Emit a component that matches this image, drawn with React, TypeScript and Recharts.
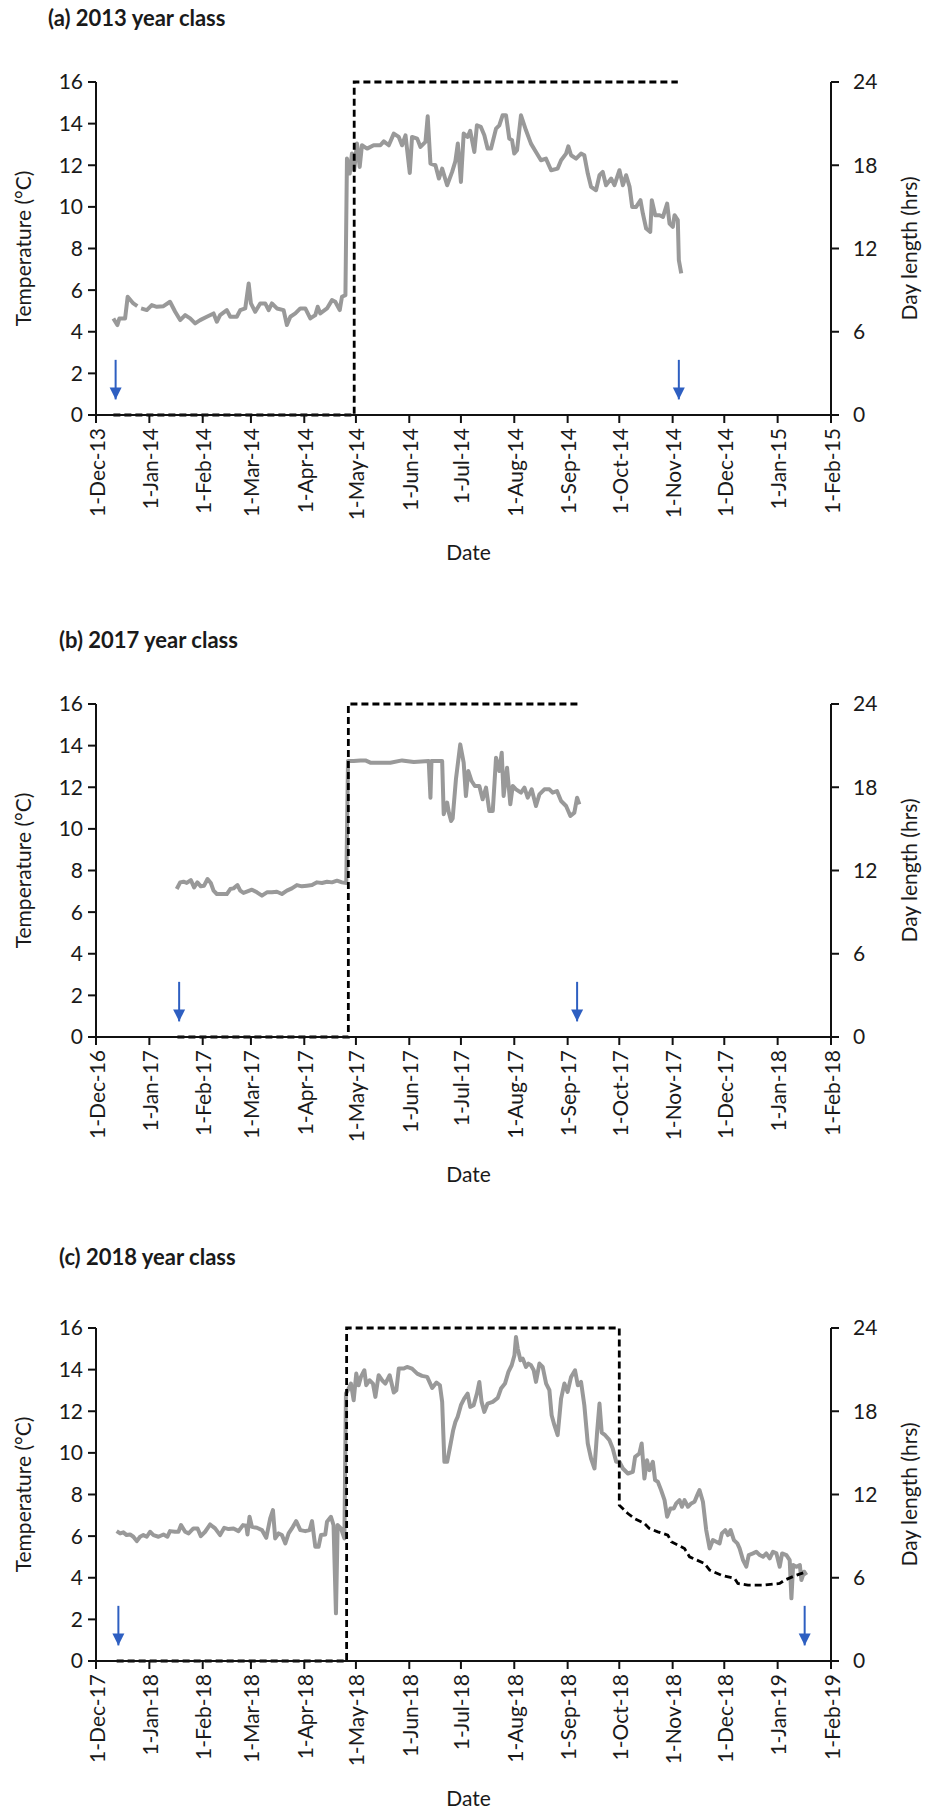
import React from 'react';
import { LineChart, Line, XAxis, YAxis } from 'recharts';

// Day offsets of month starts from 1-Dec (same calendar layout for all three panels)
const monthTicks = [0, 31, 62, 90, 121, 151, 182, 212, 243, 274, 304, 335, 365, 396, 427];

const labelsA = ['1-Dec-13', '1-Jan-14', '1-Feb-14', '1-Mar-14', '1-Apr-14', '1-May-14', '1-Jun-14', '1-Jul-14', '1-Aug-14', '1-Sep-14', '1-Oct-14', '1-Nov-14', '1-Dec-14', '1-Jan-15', '1-Feb-15'];
const labelsB = ['1-Dec-16', '1-Jan-17', '1-Feb-17', '1-Mar-17', '1-Apr-17', '1-May-17', '1-Jun-17', '1-Jul-17', '1-Aug-17', '1-Sep-17', '1-Oct-17', '1-Nov-17', '1-Dec-17', '1-Jan-18', '1-Feb-18'];
const labelsC = ['1-Dec-17', '1-Jan-18', '1-Feb-18', '1-Mar-18', '1-Apr-18', '1-May-18', '1-Jun-18', '1-Jul-18', '1-Aug-18', '1-Sep-18', '1-Oct-18', '1-Nov-18', '1-Dec-18', '1-Jan-19', '1-Feb-19'];

const tempTicks = [0, 2, 4, 6, 8, 10, 12, 14, 16];
const hourTicks = [0, 6, 12, 18, 24];

// Temperature (°C): [day since 1-Dec, value]
const tempA: [number, number | null][] = [
  [10.1, 4.64], [12.4, 4.32], [13.6, 4.64], [16.9, 4.64], [18.4, 5.68], [21.7, 5.36], [24, 5.23], [25, null],
  [26.2, 5.12], [29.5, 5.04], [32.4, 5.28], [35.3, 5.2], [39.2, 5.23], [43, 5.44], [46, 4.96], [48.9, 4.56],
  [51.8, 4.8], [54.7, 4.64], [57.6, 4.4], [60.5, 4.56], [64.4, 4.72], [68.3, 4.88], [70.2, 4.48], [72.1, 4.8],
  [76, 5.04], [78, 4.72], [81.8, 4.72], [83.8, 5.04], [86.7, 5.12], [88.7, 6.32], [90, 5.36], [92.5, 4.96],
  [95.4, 5.36], [98.3, 5.36], [100.3, 5.04], [102.2, 5.36], [105.1, 5.12], [109, 5.04], [110.9, 4.32], [112.9, 4.72],
  [115.8, 4.88], [118.7, 5.12], [121.6, 5.12], [124.5, 4.64], [127.4, 4.8], [128.8, 5.2], [130.3, 4.88], [134.2, 5.12],
  [137.1, 5.52], [139, 5.44], [141.6, 5.04], [142.9, 5.68], [144.9, 5.76], [145.8, 12.32], [147.4, 11.6], [148.7, 12.56],
  [150, 11.76], [151.6, 13.04], [153.2, 11.92], [154.5, 12.96], [157.5, 12.8], [161.3, 12.96], [165.2, 12.96], [167.2, 13.15],
  [170.1, 12.96], [173, 13.52], [175.9, 13.36], [177.8, 12.96], [179.8, 13.44], [182.3, 11.63], [183.6, 13.36], [186.6, 13.28],
  [188.5, 12.88], [191.4, 13.12], [192.7, 14.35], [194.3, 12.08], [197.2, 12], [199.2, 11.36], [201.1, 11.84], [204, 11.04],
  [206.9, 11.68], [208.8, 12.2], [210.2, 13.04], [212, 11.2], [213.6, 13.52], [215.9, 13.36], [217.4, 13.65], [219.8, 12.64],
  [221.3, 13.92], [223.6, 13.84], [225.6, 13.44], [227.5, 12.8], [229.5, 12.8], [232.4, 13.76], [234.3, 13.92], [236.2, 14.4],
  [238.2, 14.4], [240.1, 13.28], [241.7, 13.2], [243, 12.56], [244.6, 12.72], [246.9, 14.4], [249.8, 13.68], [252.7, 13.04],
  [255.6, 12.64], [258.5, 12.24], [261.4, 12.32], [264.4, 11.76], [268.2, 11.84], [270.2, 12.24], [273.1, 12.56], [274.4, 12.91],
  [276, 12.48], [278.9, 12.32], [281.8, 12.56], [283.7, 12.48], [285.7, 11.6], [287.6, 10.96], [290.5, 10.8], [292.5, 11.52],
  [294.4, 11.68], [296.3, 11.04], [299.3, 11.36], [301.2, 11.04], [304.1, 11.76], [306.1, 11.04], [308, 11.52], [310, 10.96],
  [311.5, 10], [313.8, 10], [316.3, 10.32], [317.7, 9.68], [319.6, 8.96], [322, 8.8], [322.9, 10.32], [324.9, 9.6],
  [327.4, 9.6], [329.4, 9.52], [331.8, 10.16], [333.2, 9.2], [335.1, 9.04], [336.1, 9.6], [338, 9.36], [338.6, 7.44], [340, 6.8],
];

const tempB: [number, number][] = [
  [46.9, 7.11], [48.9, 7.43], [50.8, 7.46], [52.7, 7.4], [55.1, 7.54], [57, 7.19], [58.9, 7.43], [60.9, 7.24],
  [62.8, 7.27], [64.8, 7.59], [66.7, 7.4], [68.3, 7.03], [70.2, 6.87], [73.1, 6.87], [76, 6.87], [78, 7.11],
  [79.9, 7.14], [82.2, 7.3], [83.8, 7.03], [85.7, 6.92], [87.6, 6.98], [90.6, 7.08], [93.5, 6.95], [96.4, 6.79],
  [99.3, 6.95], [102.2, 6.95], [105.1, 6.98], [108, 6.87], [110.9, 7.03], [113.8, 7.14], [116.7, 7.3], [119.6, 7.24],
  [122.6, 7.27], [125.5, 7.3], [128.4, 7.43], [131.3, 7.4], [134.2, 7.46], [137.1, 7.43], [140, 7.51], [142.9, 7.43],
  [145.4, 7.4], [146.4, 13.26], [149.7, 13.26], [153.6, 13.29], [156.5, 13.29], [159.4, 13.18], [165.2, 13.18], [171, 13.18],
  [177.8, 13.29], [184.6, 13.21], [193.3, 13.26], [194.3, 11.5], [194.9, 13.26], [201.1, 13.26], [202, 10.7], [204, 11.26],
  [205, 10.78], [206.3, 10.38], [207.2, 10.5], [209.1, 12.38], [211.6, 14.06], [213.6, 13.18], [214.9, 11.58], [216.3, 12.78],
  [218.2, 12.3], [220.1, 12.06], [222.7, 12.06], [224.6, 11.42], [226.6, 11.98], [228.5, 10.86], [230.5, 10.86], [232.4, 13.42],
  [234.3, 12.78], [235.7, 13.66], [236.8, 11.58], [238.8, 12.94], [240.7, 11.18], [242.1, 12.06], [244, 11.9], [246.9, 11.74],
  [248.9, 11.98], [250.8, 11.5], [253.1, 11.9], [255.6, 11.1], [257.6, 11.66], [260.5, 11.9], [263.4, 11.9], [265.3, 11.74],
  [267.8, 11.82], [270.2, 11.34], [273.1, 11.1], [275.6, 10.62], [277.9, 10.78], [279.5, 11.5], [280.8, 11.18],
];

const tempC: [number, number][] = [
  [12, 6.24], [14, 6.13], [15.9, 6.18], [17.8, 6.05], [19.8, 6.08], [21.7, 5.97], [23.7, 5.76], [25.6, 5.97],
  [27.5, 6.05], [29.5, 5.97], [31.4, 6.21], [33.4, 6.05], [36.3, 5.97], [39.2, 6.08], [41.5, 5.97], [43, 6.24],
  [45.9, 6.21], [47.9, 6.21], [49.4, 6.53], [51.8, 6.21], [53.8, 6.13], [56.6, 6.37], [59, 6.37], [60.9, 6.0],
  [63.4, 6.21], [66.3, 6.56], [69.2, 6.37], [72.1, 6.05], [74.5, 6.4], [77, 6.34], [79.9, 6.37], [82.8, 6.24],
  [85.4, 6.53], [87.3, 6.5], [88, 6.08], [89.2, 6.93], [90.6, 6.45], [93.5, 6.4], [96.4, 6.29], [98.9, 5.92],
  [101.2, 6.85], [102.8, 7.25], [104.1, 5.89], [106.1, 6.13], [108, 6.05], [110, 5.65], [111.9, 6.13], [113.8, 6.37],
  [116.3, 6.72], [118.7, 6.29], [121.6, 6.24], [124.1, 6.29], [125.5, 6.72], [127.4, 5.49], [129.3, 5.49], [130.7, 6.05],
  [133.2, 6.08], [134.2, 6.69], [136.5, 6.93], [138, 6.53], [139.4, 2.29], [140.4, 6.53], [142.3, 6.37], [144.3, 5.89],
  [145.2, 12.85], [146.8, 13.09], [148.1, 13.33], [149.7, 12.53], [151.2, 13.81], [152.6, 13.25], [153.9, 13.65], [155.9, 13.97],
  [157, 13.25], [158.9, 13.49], [160.9, 13.33], [162.3, 12.69], [164.2, 13.73], [166.2, 13.49], [168.1, 13.33], [170.6, 13.73],
  [173, 12.9], [174.5, 13.01], [175.9, 14.05], [178.8, 14.05], [180.7, 14.13], [183.6, 14.05], [186.6, 13.81], [189.4, 13.7],
  [192.4, 13.65], [195.3, 13.12], [197.8, 13.38], [199.8, 13.25], [201.1, 12.45], [202.4, 9.57], [204, 9.57], [205.5, 10.21],
  [207.5, 11.09], [208.8, 11.49], [210.1, 11.73], [212, 12.29], [213.9, 12.61], [215.9, 12.85], [217.4, 12.21], [219.4, 12.29],
  [221.3, 12.85], [222.7, 13.41], [224, 12.45], [225.6, 11.97], [227.5, 12.37], [230.5, 12.45], [233.4, 12.64], [235.3, 13.09],
  [237.6, 13.33], [239.6, 13.89], [241.5, 14.21], [243.1, 14.69], [244, 15.57], [245, 15.01], [246.6, 14.45], [247.9, 14.53],
  [249.8, 14.13], [251.2, 14.29], [252.7, 14.21], [254.3, 13.97], [255.6, 13.41], [257.6, 14.29], [259.5, 14.13], [261.5, 13.33],
  [263.4, 13.01], [264.7, 11.81], [266.3, 11.33], [268.2, 10.85], [270.2, 12.61], [272.1, 13.33], [274, 12.93], [276, 13.65],
  [278.3, 13.97], [279.9, 13.25], [281.8, 13.41], [283.7, 12.29], [285.7, 10.45], [287.6, 9.73], [289.6, 9.25], [291.1, 10.97],
  [292.5, 12.37], [293.8, 10.97], [295.8, 10.85], [298.3, 10.61], [300.2, 10.21], [302.2, 9.57], [304.1, 9.57], [306.1, 9.25],
  [309, 9.01], [311.9, 9.09], [313.2, 9.81], [315.7, 9.97], [317, 10.45], [318.6, 8.77], [320.1, 9.65], [321.5, 9.17],
  [323.5, 9.57], [324.8, 8.69], [326.4, 8.61], [328.3, 8.21], [330.3, 7.73], [331.8, 6.93], [333.7, 7.33], [335.7, 7.33],
  [337.1, 7.57], [339, 7.73], [340.4, 7.41], [341.9, 7.73], [343.9, 7.41], [345.8, 7.57], [347.7, 7.65], [349.3, 7.97],
  [350.6, 8.21], [352.6, 7.65], [354.5, 6.29], [356.5, 5.41], [358.4, 5.81], [360.3, 5.73], [362.3, 5.65], [363.6, 6.13],
  [365.6, 6.29], [367.1, 6.05], [368.7, 6.29], [370.6, 5.81], [372.6, 5.65], [373.9, 5.41], [375.9, 4.85], [377.8, 4.53],
  [379.2, 5.09], [381.7, 5.17], [383.6, 5.25], [385.6, 5.09], [387.5, 5.01], [389.4, 5.17], [391.4, 4.93], [393.3, 5.25],
  [395.3, 5.17], [397.2, 4.53], [398.6, 5.17], [401.1, 5.09], [403, 4.85], [404, 3.01], [405, 4.61], [406.9, 4.53],
  [408.9, 4.61], [409.8, 3.89], [411.4, 4.29], [412.7, 4.13],
];

// Day length (hrs): [day, hours]
const dayLenA: [number, number][] = [[10.1, 0], [150, 0], [150, 24], [338, 24]];
const dayLenB: [number, number][] = [[47.3, 0], [146.6, 0], [146.6, 24], [282, 24]];
const dayLenC: [number, number][] = [
  [12, 0], [145.6, 0], [145.6, 24], [304, 24], [304, 11.23], [309, 10.63], [312.8, 10.27], [318.6, 9.91],
  [321.5, 9.55], [326.4, 9.31], [332.2, 9.07], [334.2, 8.59], [341.9, 8.11], [344.8, 7.51], [353.5, 7.03], [356.5, 6.55],
  [363.2, 6.19], [371, 5.95], [372.9, 5.59], [378.7, 5.47], [388.4, 5.47], [397.2, 5.59], [400.1, 5.83], [405.9, 6.14], [412.7, 6.43],
];

// Blue arrows (start / end of the year class), day positions
const arrowsA = [11.4, 338.6];
const arrowsB = [48.3, 279.5];
const arrowsC = [13, 411.7];
const arrowTail = 2.65;
const arrowTip = 0.75;

const FONT = 'Lato, "Open Sans", sans-serif';
const TXT = '#1a1a1a';
const FS = 21;
const TITLE_FS = 22;

const ArrowHead = (props: any) => {
  const { cx, cy, index } = props;
  if (index !== 1 || cx == null || cy == null) return <g key={`ah-${index}`} />;
  return (
    <path
      key={`ah-${index}`}
      d={`M${cx - 6},${cy - 12} L${cx + 6},${cy - 12} L${cx},${cy} Z`}
      fill="#2e5fc1"
      stroke="none"
    />
  );
};

function makeXTick(labels: string[]) {
  return (props: any) => {
    const { x, y, payload } = props;
    const i = monthTicks.indexOf(payload.value);
    return (
      <text
        x={x}
        y={y + 3}
        transform={`rotate(-90, ${x}, ${y + 3})`}
        textAnchor="end"
        dominantBaseline="central"
        fontSize={FS}
        fill={TXT}
        fontFamily={FONT}
      >
        {i >= 0 ? labels[i] : ''}
      </text>
    );
  };
}

type PanelProps = {
  top: number;
  title: string;
  titleX: number;
  titleY: number;
  temp: [number, number | null][];
  dayLen: [number, number][];
  arrows: number[];
  labels: string[];
};

function Panel({ top, title, titleX, titleY, temp, dayLen, arrows, labels }: PanelProps) {
  const tData = temp.map(([d, v]) => ({ day: d, t: v }));
  const dData = dayLen.map(([d, v]) => ({ day: d, h: v }));
  const XTick = makeXTick(labels);
  return (
    <div style={{ position: 'absolute', left: 0, top, width: 939, height: 570 }}>
      <div
        style={{
          position: 'absolute',
          left: titleX,
          top: titleY - 13,
          height: 26,
          lineHeight: '26px',
          fontFamily: FONT,
          fontWeight: 700,
          fontSize: TITLE_FS,
          color: TXT,
          whiteSpace: 'nowrap',
        }}
      >
        {title}
      </div>
      <LineChart width={939} height={570} margin={{ top: 82, right: 0, bottom: 0, left: 0 }} style={{ fontFamily: FONT }}>
        <XAxis
          type="number"
          dataKey="day"
          domain={[0, 427]}
          ticks={monthTicks}
          interval={0}
          allowDataOverflow
          height={155}
          stroke="#111"
          strokeWidth={2}
          tickSize={8}
          tick={XTick}
          label={{ value: 'Date', position: 'insideBottom', offset: 10, dx: 5, style: { fontSize: FS, fill: TXT, fontFamily: FONT } }}
        />
        <YAxis
          yAxisId="left"
          type="number"
          domain={[0, 16]}
          ticks={tempTicks}
          interval={0}
          width={96}
          stroke="#111"
          strokeWidth={2}
          tickSize={8}
          tickMargin={5}
          tick={{ fontSize: FS, fill: TXT, fontFamily: FONT }}
          label={{ value: 'Temperature (°C)', angle: -90, position: 'insideLeft', offset: 24, style: { textAnchor: 'middle', fontSize: FS, fill: TXT, fontFamily: FONT } }}
        />
        <YAxis
          yAxisId="right"
          orientation="right"
          type="number"
          domain={[0, 24]}
          ticks={hourTicks}
          interval={0}
          width={108}
          stroke="#111"
          strokeWidth={2}
          tickSize={8}
          tickMargin={14}
          tick={{ fontSize: FS, fill: TXT, fontFamily: FONT }}
          label={{ value: 'Day length (hrs)', angle: -90, position: 'insideRight', offset: 29, style: { textAnchor: 'middle', fontSize: FS, fill: TXT, fontFamily: FONT } }}
        />
        <Line
          yAxisId="left"
          data={tData}
          dataKey="t"
          type="linear"
          stroke="#999999"
          strokeWidth={4}
          strokeLinejoin="round"
          dot={false}
          activeDot={false}
          connectNulls={false}
          isAnimationActive={false}
        />
        <Line
          yAxisId="right"
          data={dData}
          dataKey="h"
          type="linear"
          stroke="#000000"
          strokeWidth={2.8}
          strokeDasharray="7 4"
          dot={false}
          activeDot={false}
          isAnimationActive={false}
        />
        {arrows.map((d, i) => (
          <Line
            key={`arrow-${i}`}
            yAxisId="left"
            data={[{ day: d, a: arrowTail }, { day: d, a: arrowTip }]}
            dataKey="a"
            type="linear"
            stroke="#2e5fc1"
            strokeWidth={2}
            dot={ArrowHead}
            activeDot={false}
            isAnimationActive={false}
          />
        ))}
      </LineChart>
    </div>
  );
}

export default function App() {
  return (
    <div style={{ position: 'absolute', left: 0, top: 0, width: 939, height: 1816, background: '#fff', overflow: 'hidden' }}>
      <Panel top={0} title="(a) 2013 year class" titleX={48} titleY={18} temp={tempA} dayLen={dayLenA} arrows={arrowsA} labels={labelsA} />
      <Panel top={622} title="(b) 2017 year class" titleX={59} titleY={18} temp={tempB} dayLen={dayLenB} arrows={arrowsB} labels={labelsB} />
      <Panel top={1246} title="(c) 2018 year class" titleX={59} titleY={11} temp={tempC} dayLen={dayLenC} arrows={arrowsC} labels={labelsC} />
    </div>
  );
}
